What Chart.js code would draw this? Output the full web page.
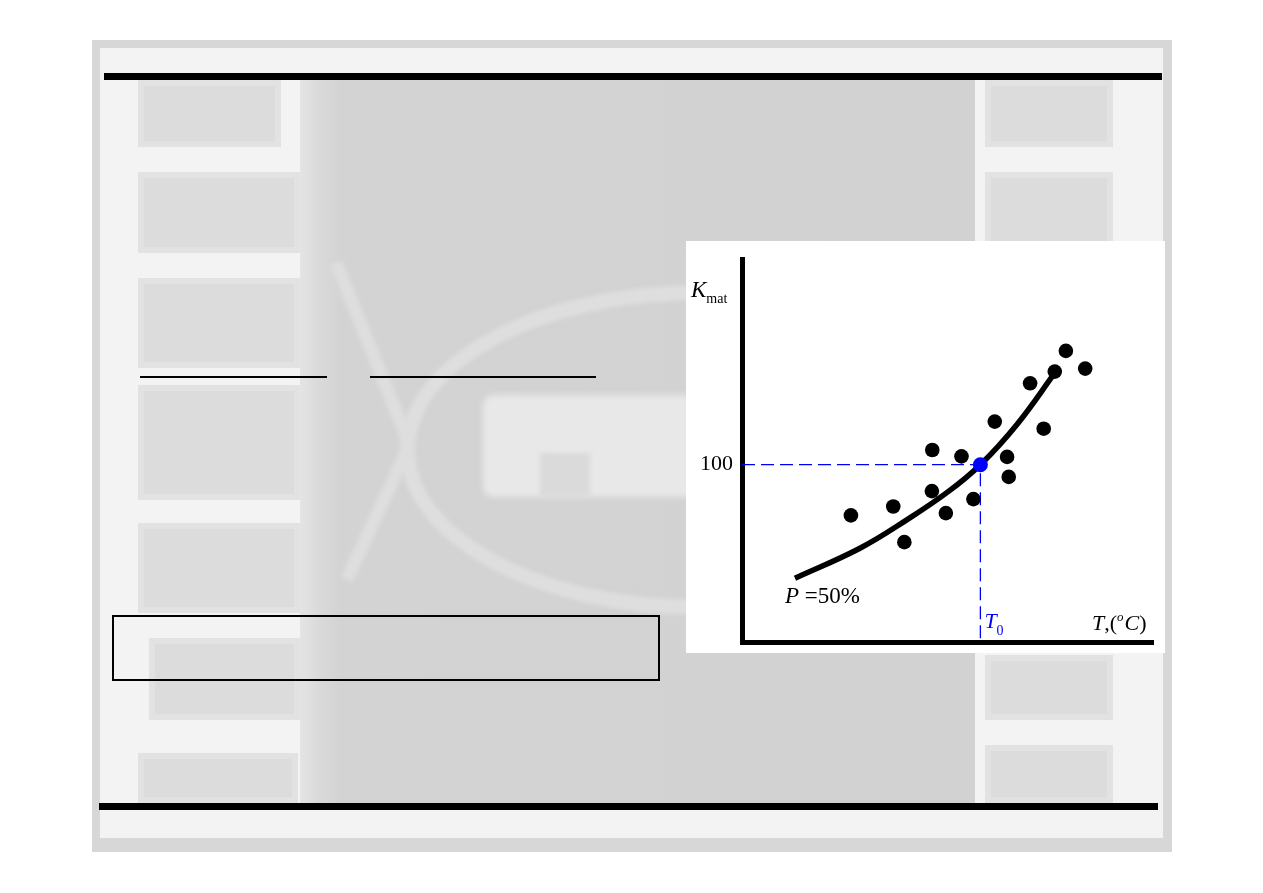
<!DOCTYPE html>
<html>
<head>
<meta charset="utf-8">
<script src="https://cdn.jsdelivr.net/npm/chart.js@4.4.0/dist/chart.umd.min.js"></script>
<style>
body { margin: 0; width: 1263px; height: 893px; background: #fff; position: relative; overflow: hidden; }
.abs { position: absolute; }
#frame { left: 92px; top: 40px; width: 1080px; height: 812px; background: #d7d7d7; }
#inner { left: 100px; top: 48px; width: 1063px; height: 790px; background: #f3f3f3; }
.tile { position: absolute; background: #dcdcdc; box-shadow: inset 0 0 0 6px #e2e2e2; }
#center { left: 300px; top: 80px; width: 675px; height: 723px; overflow: hidden;
          background: linear-gradient(to right, #e4e4e4 0px, #dadada 18px, #d3d3d3 40px, #d2d2d2 100%); }
#arc { left: 100px; top: 205px; width: 600px; height: 330px; border: 15px solid #dedede; border-radius: 50%; box-sizing: border-box; filter: blur(2px); }
.band { position: absolute; background: #dedede; filter: blur(2px); transform-origin: top left; }
#blob { left: 183px; top: 315px; width: 300px; height: 102px; background: #e8e8e8; border-radius: 10px; filter: blur(3px); }
#notch { left: 240px; top: 373px; width: 50px; height: 44px; background: #dadada; filter: blur(2px); }
.bar { position: absolute; background: #000; }
#box { left: 112px; top: 615px; width: 544px; height: 62px; border: 2px solid #000; }
#panel { left: 686px; top: 241px; width: 479px; height: 412px; background: #fff; }
</style>
</head>
<body>
<div id="frame" class="abs"></div>
<div id="inner" class="abs"></div>

<!-- left column of tiles -->
<div class="tile" style="left:138px;top:80px;width:143px;height:67px"></div>
<div class="tile" style="left:138px;top:172px;width:162px;height:81px"></div>
<div class="tile" style="left:138px;top:278px;width:162px;height:90px"></div>
<div class="tile" style="left:138px;top:385px;width:162px;height:115px"></div>
<div class="tile" style="left:138px;top:523px;width:162px;height:90px"></div>
<div class="tile" style="left:149px;top:638px;width:151px;height:82px"></div>
<div class="tile" style="left:138px;top:753px;width:160px;height:50px"></div>

<!-- right column of tiles -->
<div class="tile" style="left:985px;top:80px;width:128px;height:67px"></div>
<div class="tile" style="left:985px;top:172px;width:128px;height:75px"></div>
<div class="tile" style="left:985px;top:655px;width:128px;height:65px"></div>
<div class="tile" style="left:985px;top:745px;width:128px;height:58px"></div>

<div id="center" class="abs">
  <div id="arc" class="abs"></div>
  <div class="band" style="left:30px;top:185px;width:13px;height:190px;transform:rotate(-22deg)"></div>
  <div class="band" style="left:100px;top:370px;width:13px;height:140px;transform:rotate(25deg)"></div>
  <div id="blob" class="abs"></div>
  <div id="notch" class="abs"></div>
</div>

<div class="bar" style="left:104px;top:73px;width:1058px;height:7px"></div>
<div class="bar" style="left:99px;top:803px;width:1059px;height:7px"></div>
<div class="bar" style="left:140px;top:376px;width:187px;height:2px"></div>
<div class="bar" style="left:370px;top:376px;width:226px;height:2px"></div>
<div id="box" class="abs"></div>

<div id="panel" class="abs"><canvas id="kmatChart"></canvas></div>

<script>
// scattered measurements
var tempPoints = [26.5, 36.8, 39.5, 46.3, 46.2, 49.6, 53.4, 56.3, 61.5, 64.5, 64.9, 70.1, 73.4, 76.1, 78.8, 83.5];
var kmatPoints = [71.4, 76.4, 56.3, 108.3, 85.1, 72.7, 104.7, 80.6, 124.3, 104.4, 93.1, 145.9, 120.3, 152.5, 164.2, 154.2];

// fitted P = 50% curve
var curveTemp = [12.9, 28.7, 40.1, 50.0, 58, 67.0, 76.2];
var curveKmat = [36.0, 52.9, 68.9, 84.5, 100, 123.0, 152.0];

// reference point T0 / Kmat = 100
var refTemp = 58;
var refKmat = 100;
var yTickValues = [100];
var tempMax = 100;
var kmatMax = 216;

function pairs(xs, ys) {
    return xs.map(function (x, i) { return {x: x, y: ys[i]}; });
}

var serif = '"Liberation Serif", "Times New Roman", serif';

/** text labels drawn in canvas **/
var labelsPlugin = {
    id: 'labels',
    afterDraw: function (chart) {
        var ctx = chart.ctx;
        var area = chart.chartArea;
        var xs = chart.scales.x, ys = chart.scales.y;

        function seq(parts, px, py, color) {
            ctx.save();
            ctx.fillStyle = color;
            ctx.textBaseline = 'alphabetic';
            ctx.textAlign = 'left';
            parts.forEach(function (p) {
                ctx.font = p.f + ' ' + serif;
                ctx.fillText(p.t, px + (p.dx || 0), py + (p.dy || 0));
                px += ctx.measureText(p.t).width + (p.dx || 0);
            });
            ctx.restore();
        }

        seq([{t: 'K', f: 'italic 23px'}, {t: 'mat', f: '14px', dy: 6}],
            area.left - 51, area.top + 38, '#000');

        seq([{t: 'P', f: 'italic 23px'}, {t: ' =50%', f: '23px'}],
            xs.getPixelForValue(curveTemp[0]) - 10, ys.getPixelForValue(curveKmat[0]) + 25, '#000');

        seq([{t: 'T', f: 'italic 22px'}, {t: '0', f: '14px', dy: 7}],
            xs.getPixelForValue(refTemp) + 4, area.bottom - 14, '#0000ff');

        seq([{t: 'T', f: 'italic 22px'}, {t: ',', f: '22px'}, {t: '(', f: '22px'},
             {t: 'o', f: 'italic 13px', dy: -9}, {t: 'C', f: 'italic 22px', dx: 1}, {t: ')', f: '22px'}],
            area.right - 61, area.bottom - 12, '#000');
    }
};

var ctx = document.getElementById('kmatChart').getContext('2d');
new Chart(ctx, {
    type: 'scatter',
    data: {
        datasets: [
            {
                label: 'T0',
                data: [{x: refTemp, y: refKmat}],
                backgroundColor: '#0000ff',
                borderWidth: 0,
                pointRadius: 7.5,
                order: 0
            },
            {
                label: 'points',
                data: pairs(tempPoints, kmatPoints),
                backgroundColor: '#000',
                borderWidth: 0,
                pointRadius: 7.3,
                order: 1
            },
            {
                type: 'line',
                label: 'P = 50%',
                data: pairs(curveTemp, curveKmat),
                borderColor: '#000',
                borderWidth: 5.5,
                tension: 0.4,
                pointRadius: 0,
                fill: false,
                order: 2
            },
            {
                type: 'line',
                label: 'guide',
                data: [{x: 0, y: refKmat}, {x: refTemp, y: refKmat}, {x: refTemp, y: 0}],
                borderColor: '#0000ff',
                borderWidth: 1.3,
                borderDash: [13, 6],
                pointRadius: 0,
                fill: false,
                order: 3
            }
        ]
    },
    options: {
        responsive: true,
        maintainAspectRatio: false,
        animation: false,
        layout: { padding: { top: 18, right: 12, bottom: 0, left: 0 } },
        plugins: { legend: { display: false }, tooltip: { enabled: false } },
        scales: {
            x: {
                type: 'linear',
                min: 0,
                max: tempMax,
                grid: { display: false, drawTicks: false },
                border: { display: true, color: '#000', width: 5 },
                ticks: { display: false },
                afterFit: function (s) { s.height = 11; s.paddingLeft = 0; s.paddingRight = 0; }
            },
            y: {
                type: 'linear',
                min: 0,
                max: kmatMax,
                grid: { display: false, drawTicks: false },
                border: { display: true, color: '#000', width: 5 },
                afterBuildTicks: function (s) {
                    s.ticks = yTickValues.map(function (v) { return {value: v}; });
                },
                ticks: {
                    color: '#000',
                    padding: 9,
                    font: { family: serif, size: 22 }
                },
                afterFit: function (s) { s.width = 56; s.paddingTop = 0; s.paddingBottom = 0; }
            }
        }
    },
    plugins: [labelsPlugin]
});
</script>
</body>
</html>
